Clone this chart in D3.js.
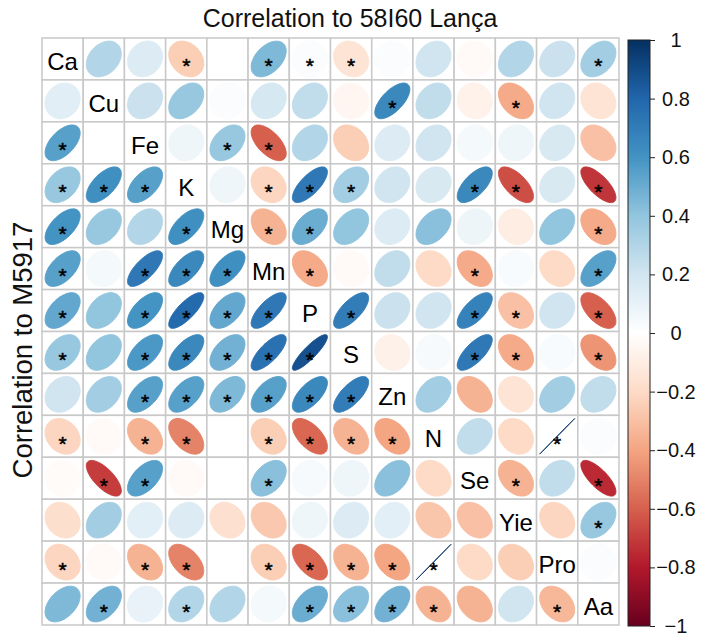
<!DOCTYPE html>
<html lang="en">
<head>
  <meta charset="UTF-8" />
  <title>Correlation ellipses: 58I60 Lança vs M5917</title>
  <script src="https://d3js.org/d3.v7.min.js"></script>
  <style>
    body {
      margin: 0;
      background: #fff;
      font-family: "Liberation Sans", Arial, sans-serif;
    }
    svg {
      display: block;
    }
    .cell {
      fill: #fff;
      stroke: #c8c8c8;
      stroke-width: 1.5px;
    }
    .star {
      font-size: 21px;
      fill: #000;
      stroke: #000;
      stroke-width: 0.5px;
    }
    .var-label {
      font-size: 24px;
      fill: #000;
    }
  </style>
</head>
<body>
  <svg id="chart" width="701" height="642"></svg>

  <script>
    // variables on both axes
    const vars = ["Ca", "Cu", "Fe", "K", "Mg", "Mn", "P", "S", "Zn", "N", "Se", "Yie", "Pro", "Aa"];

    // upper triangle = correlation for 58I60 Lança, lower triangle = M5917
    const corr = [
      [1.00, 0.30, 0.15, -0.25, 0.00, 0.45, 0.02, -0.15, 0.02, 0.20, -0.03, 0.30, 0.22, 0.35],
      [0.13, 1.00, 0.22, 0.38, 0.02, 0.18, 0.25, -0.05, 0.65, 0.25, -0.07, -0.38, 0.20, -0.15],
      [0.55, 0.00, 1.00, 0.07, 0.38, -0.60, 0.30, -0.25, 0.15, 0.20, 0.05, 0.07, 0.17, -0.30],
      [0.38, 0.62, 0.55, 1.00, 0.07, -0.22, 0.72, 0.35, 0.20, 0.17, 0.65, -0.65, 0.17, -0.72],
      [0.60, 0.38, 0.30, 0.62, 1.00, -0.35, 0.50, 0.40, 0.15, 0.42, 0.08, -0.10, 0.40, -0.38],
      [0.55, 0.05, 0.72, 0.65, 0.62, 1.00, -0.38, -0.03, 0.25, -0.20, -0.38, 0.03, -0.20, 0.55],
      [0.52, 0.40, 0.60, 0.78, 0.52, 0.72, 1.00, 0.70, 0.22, 0.20, 0.68, -0.30, 0.20, -0.60],
      [0.38, 0.40, 0.58, 0.65, 0.48, 0.75, 0.88, 1.00, -0.08, 0.04, 0.72, -0.38, 0.03, -0.45],
      [0.20, 0.35, 0.55, 0.55, 0.45, 0.55, 0.65, 0.70, 1.00, 0.35, -0.35, -0.15, 0.35, 0.25],
      [-0.22, -0.03, -0.35, -0.50, 0.00, -0.25, -0.58, -0.35, -0.40, 1.00, 0.25, -0.20, 1.00, 0.02],
      [-0.02, -0.70, 0.55, -0.03, 0.00, 0.42, 0.04, 0.07, 0.42, -0.20, 1.00, -0.35, 0.25, -0.75],
      [-0.18, 0.35, 0.12, 0.15, -0.17, -0.27, 0.07, 0.15, 0.12, -0.28, -0.30, 1.00, -0.22, 0.38],
      [-0.22, -0.03, -0.35, -0.50, 0.00, -0.25, -0.58, -0.35, -0.40, 1.00, -0.20, -0.25, 1.00, 0.02],
      [0.45, 0.48, 0.10, 0.30, 0.30, 0.05, 0.50, 0.42, 0.48, -0.35, -0.35, 0.20, -0.33, 1.00]
    ];

    // 1 = significant (marked with *)
    const sig = [
      [0, 0, 0, 1, 0, 1, 1, 1, 0, 0, 0, 0, 0, 1],
      [0, 0, 0, 0, 0, 0, 0, 0, 1, 0, 0, 1, 0, 0],
      [1, 0, 0, 0, 1, 1, 0, 0, 0, 0, 0, 0, 0, 0],
      [1, 1, 1, 0, 0, 1, 1, 1, 0, 0, 1, 1, 0, 1],
      [1, 0, 0, 1, 0, 1, 1, 0, 0, 0, 0, 0, 0, 1],
      [1, 0, 1, 1, 1, 0, 1, 0, 0, 0, 1, 0, 0, 1],
      [1, 0, 1, 1, 1, 1, 0, 1, 0, 0, 1, 1, 0, 1],
      [1, 0, 1, 1, 1, 1, 1, 0, 0, 0, 1, 1, 0, 1],
      [0, 0, 1, 1, 1, 1, 1, 1, 0, 0, 0, 0, 0, 0],
      [1, 0, 1, 1, 0, 1, 1, 1, 1, 0, 0, 0, 1, 0],
      [0, 1, 1, 0, 0, 1, 0, 0, 0, 0, 0, 1, 0, 1],
      [0, 0, 0, 0, 0, 0, 0, 0, 0, 0, 0, 0, 0, 1],
      [1, 0, 1, 1, 0, 1, 1, 1, 1, 1, 0, 0, 0, 0],
      [0, 1, 0, 1, 0, 0, 1, 1, 1, 1, 0, 0, 1, 0]
    ];

    const legendTicks = [-1, -0.8, -0.6, -0.4, -0.2, 0, 0.2, 0.4, 0.6, 0.8, 1];
    const titleTop = "Correlation to 58I60 Lança";
    const titleSide = "Correlation to M5917";

    // RdBu diverging palette (same as corrplot default)
    const palette = ["#67001F", "#B2182B", "#D6604D", "#F4A582", "#FDDBC7", "#FFFFFF",
                     "#D1E5F0", "#92C5DE", "#4393C3", "#2166AC", "#053061"];

    const svg = d3.select("#chart");

    const x = d3.scaleBand().domain(vars).range([42, 619]);
    const y = d3.scaleBand().domain(vars).range([38, 625]);
    const color = d3.scaleLinear()
      .domain(legendTicks)
      .range(palette)
      .interpolate(d3.interpolateRgb);

    // ellipse like corrplot: x = cos(k + acos(r)/2)/2, y = cos(k - acos(r)/2)/2
    function ellipsePath(r, w, h) {
      const a = Math.acos(Math.max(-1, Math.min(1, r))) / 2;
      const pts = d3.range(100).map(i => {
        const k = i / 99 * 2 * Math.PI;
        return [Math.cos(k + a) / 2 * w * 0.85, -Math.cos(k - a) / 2 * h * 0.85];
      });
      return d3.line()(pts) + "Z";
    }

    const cells = [];
    vars.forEach((row, i) => {
      vars.forEach((col, j) => {
        cells.push({ row, col, i, j, value: corr[i][j], sig: sig[i][j] });
      });
    });

    const g = svg.append("g");

    const cell = g.selectAll("g.c")
      .data(cells)
      .join("g")
      .attr("class", "c")
      .attr("transform", d => `translate(${x(d.col)},${y(d.row)})`);

    cell.append("rect")
      .attr("class", "cell")
      .attr("width", x.bandwidth())
      .attr("height", y.bandwidth());

    cell.filter(d => d.i !== d.j)
      .append("path")
      .attr("transform", `translate(${x.bandwidth() / 2},${y.bandwidth() / 2})`)
      .attr("d", d => ellipsePath(d.value, x.bandwidth(), y.bandwidth()))
      .attr("fill", d => color(d.value))
      .attr("stroke", d => color(d.value))
      .attr("stroke-width", 1);

    cell.filter(d => d.i !== d.j && d.sig)
      .append("text")
      .attr("class", "star")
      .attr("x", x.bandwidth() / 2)
      .attr("y", y.bandwidth() / 2 + 14.5)
      .attr("text-anchor", "middle")
      .text("*");

    cell.filter(d => d.i === d.j)
      .append("text")
      .attr("class", "var-label")
      .attr("x", x.bandwidth() / 2)
      .attr("y", y.bandwidth() / 2 + 11)
      .attr("text-anchor", "middle")
      .text(d => d.row);

    // colour legend
    const yLeg = d3.scaleLinear().domain([-1, 1]).range([626, 40]);
    const defs = svg.append("defs");
    const grad = defs.append("linearGradient")
      .attr("id", "legGrad")
      .attr("x1", 0).attr("y1", 1).attr("x2", 0).attr("y2", 0);
    grad.selectAll("stop")
      .data(legendTicks)
      .join("stop")
      .attr("offset", d => (d + 1) / 2)
      .attr("stop-color", d => color(d));

    svg.append("rect")
      .attr("x", 628)
      .attr("y", yLeg(1))
      .attr("width", 22)
      .attr("height", yLeg(-1) - yLeg(1))
      .attr("fill", "url(#legGrad)")
      .attr("stroke", "#222")
      .attr("stroke-width", 1);

    const legAxis = svg.append("g")
      .attr("transform", "translate(650,0)")
      .call(d3.axisRight(yLeg)
        .tickValues(legendTicks)
        .tickSize(5)
        .tickFormat(d3.format("~g")));
    legAxis.select(".domain").remove();
    legAxis.selectAll("line").attr("stroke", "#222");
    legAxis.selectAll("text")
      .attr("x", 26)
      .attr("text-anchor", "middle")
      .attr("fill", "#111")
      .style("font-size", "20px")
      .style("font-family", "'Liberation Sans', Arial, sans-serif");

    // titles
    svg.append("text")
      .attr("x", 350)
      .attr("y", 27)
      .attr("text-anchor", "middle")
      .style("font-size", "25px")
      .attr("fill", "#111")
      .text(titleTop);

    svg.append("text")
      .attr("transform", "translate(32,350) rotate(-90)")
      .attr("text-anchor", "middle")
      .style("font-size", "27.5px")
      .attr("fill", "#111")
      .text(titleSide);
  </script>
</body>
</html>
